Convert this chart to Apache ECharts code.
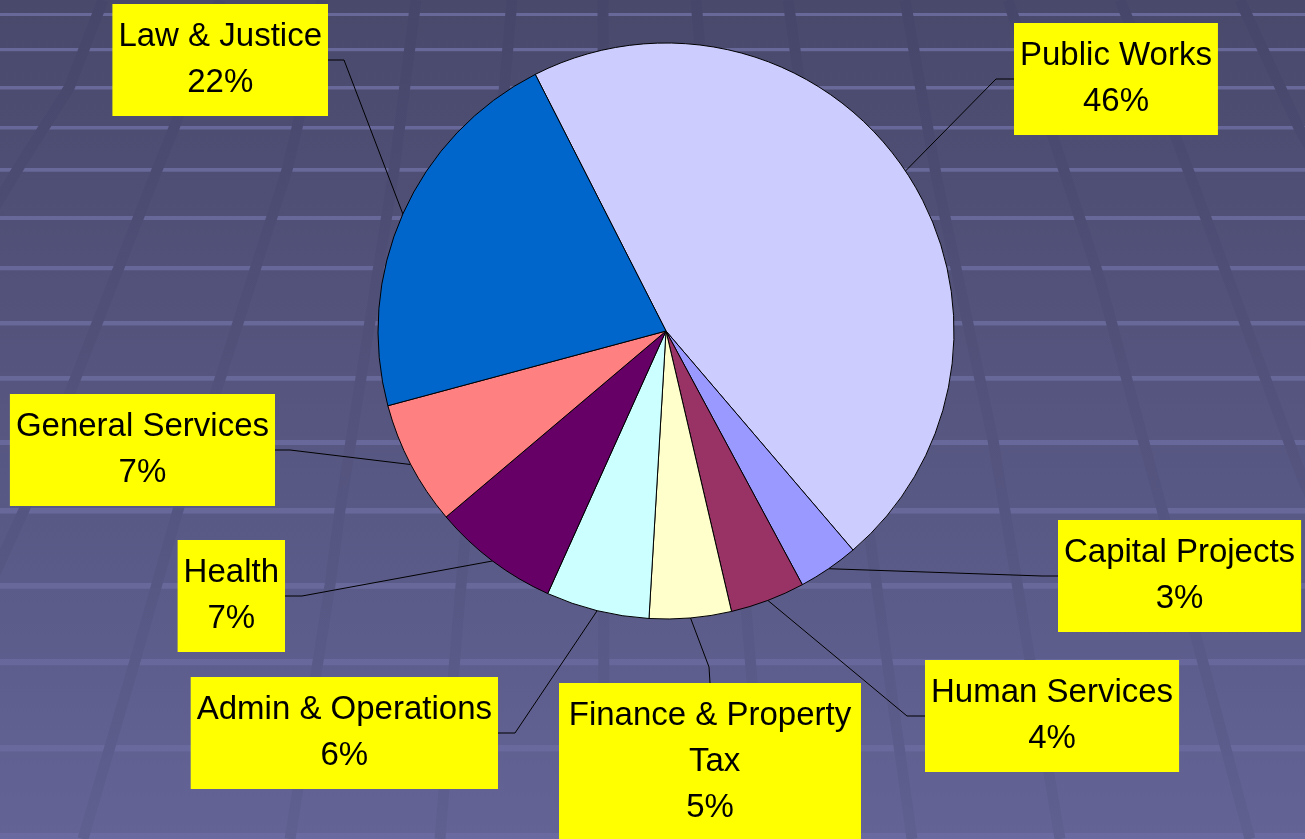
<!DOCTYPE html>
<html>
<head>
<meta charset="utf-8">
<script src="https://cdn.jsdelivr.net/npm/echarts@6/dist/echarts.min.js"></script>
<style>
html, body { margin: 0; padding: 0; }
#main { width: 1305px; height: 839px; }
</style>
</head>
<body>
<div id="main"></div>
<script>
// budget shares by department, clockwise from the top-left
const departments = ['Public Works', 'Capital Projects', 'Human Services', 'Finance & Property Tax',
    'Admin & Operations', 'Health', 'General Services', 'Law & Justice'];
const shares = [46.3, 3.4, 4.2, 4.6, 5.8, 7.1, 7.0, 21.7];
const sliceColors = ['#CCCCFF', '#9999FF', '#993366', '#FFFFCC', '#CCFFFF', '#660066', '#FF8080', '#0066CC'];

// where each yellow box hangs: which edge the leader meets, that point, then the elbow
const labelSpots = [
    ['leftEdge', 1014, 79, 996, 79],
    ['leftEdge', 1058, 576, 1042, 576],
    ['leftEdge', 925, 716, 907, 716],
    ['topEdge', 710, 683, 709, 667],
    ['rightEdge', 498, 733, 515, 733],
    ['rightEdge', 285, 596, 302, 596],
    ['rightEdge', 275, 450, 290, 450],
    ['rightEdge', 328, 60, 344, 60]
];

// backdrop: light floor lines and darker receding bands
const floorLines = [15, 50, 88, 128, 170, 218, 268, 323, 378, 442, 510, 585, 661, 747, 835];
const floorBands = [
    [[103, 0], [69, 88], [17, 170], [-60, 300]],
    [[220, 0], [174, 128], [157, 170], [24, 510], [-40, 650]],
    [[322, 0], [297, 128], [287, 170], [178, 510], [135, 661], [83, 839]],
    [[416, 0], [394, 170], [340, 510], [330, 585], [290, 839]],
    [[512, 0], [458, 620], [440, 839]],
    [[603, 0], [604, 839]],
    [[696, 0], [747, 620], [765, 839]],
    [[788, 0], [812, 170], [866, 510], [912, 839]],
    [[905, 0], [937, 180], [993, 440], [1060, 839]],
    [[1008, 0], [1100, 280], [1163, 513], [1250, 839]],
    [[1120, 0], [1177, 140], [1303, 480], [1340, 560]],
    [[1240, 0], [1300, 130], [1340, 200]]
];

function makeBackdrop() {
    let els = [];
    for (let i = 0; i < floorLines.length; i = i + 1) {
        let y = floorLines[i];
        let t = y / 839;
        els.push({
            type: 'rect',
            shape: { x: 0, y: y - 2, width: 1305, height: 3 + t * 4 },
            style: { fill: 'rgba(140,140,205,' + (0.48 - t * 0.3).toFixed(2) + ')' },
            silent: true
        });
    }
    let bandStroke = new echarts.graphic.LinearGradient(0, 0, 0, 839, [
        { offset: 0, color: '#46466A' },
        { offset: 1, color: '#5F5F90' }
    ], true);
    for (let i = 0; i < floorBands.length; i = i + 1) {
        els.push({
            type: 'polyline',
            shape: { points: floorBands[i] },
            style: { stroke: bandStroke, lineWidth: 11, fill: null },
            silent: true
        });
    }
    return els;
}

const pieData = departments.map(function (name, i) {
    let item = { name: name, value: shares[i], itemStyle: { color: sliceColors[i] } };
    if (name.length > 20) {
        item.label = { width: 290, overflow: 'break' };
    }
    return item;
});

const myChart = echarts.init(document.getElementById('main'));

const option = {
    animation: false,
    backgroundColor: {
        type: 'linear', x: 0, y: 0, x2: 0, y2: 1,
        colorStops: [
            { offset: 0, color: '#49496C' },
            { offset: 1, color: '#636396' }
        ]
    },
    graphic: makeBackdrop(),
    series: [
        {
            type: 'pie',
            center: [666, 331],
            radius: 288,
            startAngle: 117,
            clockwise: true,
            avoidLabelOverlap: false,
            data: pieData,
            itemStyle: { borderColor: '#000', borderWidth: 1 },
            emphasis: { disabled: true },
            label: {
                show: true,
                position: 'outer',
                formatter: function (p) {
                    return p.name + '\n' + Math.round(p.percent) + '%';
                },
                color: '#000',
                fontFamily: 'Liberation Sans',
                fontSize: 33,
                lineHeight: 46,
                align: 'center',
                backgroundColor: '#FFFF00',
                padding: [10, 6]
            },
            labelLine: {
                show: true,
                length: 20,
                length2: 20,
                lineStyle: { color: '#000', width: 1 }
            },
            labelLayout: function (params) {
                let s = labelSpots[params.dataIndex];
                let w = params.labelRect.width;
                let h = params.labelRect.height;
                let x = s[1];
                let y = s[2];
                if (s[0] === 'leftEdge') x = s[1] + w / 2;
                if (s[0] === 'rightEdge') x = s[1] - w / 2;
                if (s[0] === 'topEdge') y = s[2] + h / 2;
                return {
                    x: x,
                    y: y,
                    align: 'center',
                    verticalAlign: 'middle',
                    labelLinePoints: [params.labelLinePoints[0], [s[3], s[4]], [s[1], s[2]]]
                };
            }
        }
    ]
};

myChart.setOption(option);
</script>
</body>
</html>
